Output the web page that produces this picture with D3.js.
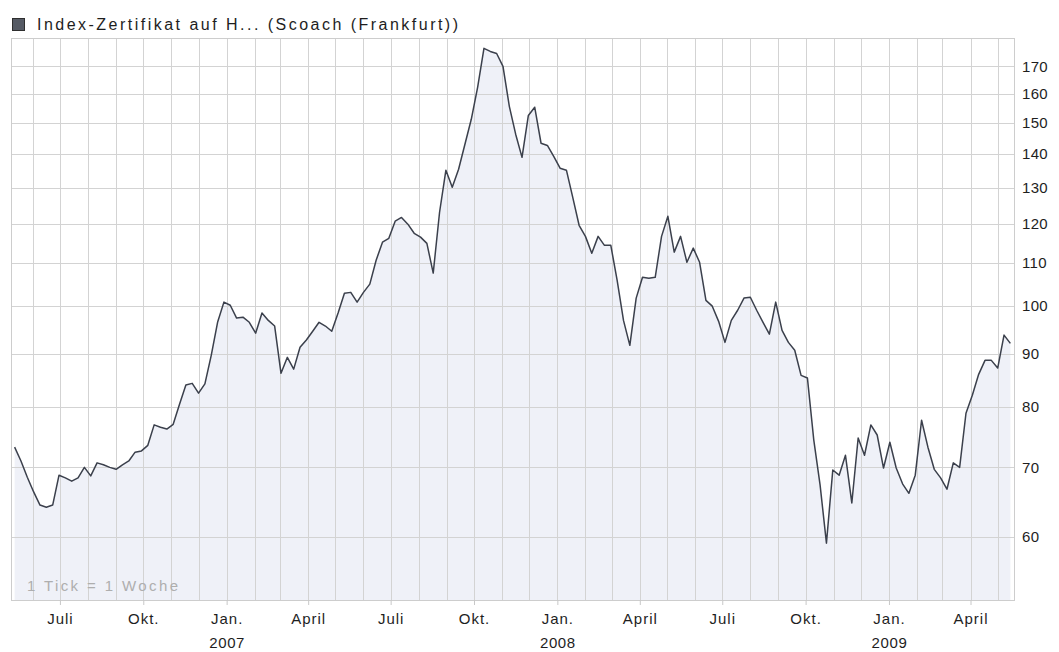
<!DOCTYPE html>
<html><head><meta charset="utf-8">
<script src="https://cdn.jsdelivr.net/npm/d3@7"></script>
<style>body{margin:0;background:#fff}</style>
</head><body>
<svg id="c" width="1059" height="652"></svg>
<script>
// ---- data ----
const title = "Index-Zertifikat auf H... (Scoach (Frankfurt))";
const note = "1 Tick = 1 Woche";
const firstWeek = "2006-05-12";            // weekly closes (Fridays)
const weeklyValues = [
 73.2,71.0,68.5,66.3,64.4,64.1,64.4,68.8,68.4,67.9,
 68.4,70.0,68.7,70.7,70.4,70.0,69.7,70.4,71.0,72.4,
 72.6,73.5,76.9,76.5,76.2,77.0,80.5,84.0,84.3,82.5,
 84.2,89.7,96.5,100.9,100.2,97.4,97.6,96.5,94.2,98.5,
 96.9,95.7,86.2,89.3,87.0,91.3,92.8,94.6,96.5,95.7,
 94.6,98.5,102.9,103.1,100.9,103.1,105.0,110.7,115.2,116.2,
 120.7,121.7,119.9,117.5,116.5,114.9,107.6,123.1,135.1,130.1,
 135.4,143.1,151.2,162.3,176.9,175.7,174.9,170.0,155.6,146.3,
 139.0,152.5,155.3,143.4,142.7,139.3,135.7,135.1,127.2,119.6,
 116.7,112.4,116.7,114.4,114.4,105.9,96.9,91.7,101.8,106.6,
 106.4,106.6,116.7,122.0,112.7,116.7,110.2,113.7,110.2,101.3,
 100.0,96.7,92.3,96.9,99.1,101.8,102.0,99.1,96.5,94.0,
 100.9,94.8,92.3,90.7,85.8,85.3,74.4,67.3,59.2,69.6,
 68.8,71.9,64.7,74.7,71.9,76.9,75.2,69.9,74.0,69.9,
 67.5,66.1,68.8,77.7,73.2,69.7,68.4,66.7,70.7,70.0,
 78.9,82.1,86.0,88.7,88.7,87.2,93.8,92.1
];
const yTickValues = [60,70,80,90,100,110,120,130,140,150,160,170];
const monthLabels = {0:"Jan.",3:"April",6:"Juli",9:"Okt."};
const xDomain = ["2006-05-08","2009-05-19"];
const yDomain = [52.2, 181];

// ---- layout ----
const plot = {left: 11, right: 1014, top: 38, bottom: 600};
const parse = d3.timeParse("%Y-%m-%d");
const start = parse(firstWeek);
const data = weeklyValues.map((v,i)=>({date: d3.timeWeek.offset(start,i), value: v}));

const x = d3.scaleTime().domain(xDomain.map(parse)).range([plot.left, plot.right]);
const y = d3.scaleLog().domain(yDomain).range([plot.bottom, plot.top]);

const svg = d3.select("#c");
const fontFam = "'Liberation Sans', Arial, sans-serif";
const txt = "#1e1e1e";

// area fill
svg.append("path").datum(data)
  .attr("fill","#eff1f8")
  .attr("d", d3.area().x(d=>x(d.date)).y0(plot.bottom).y1(d=>y(d.value)));

// grid
const months = d3.timeMonth.range(x.domain()[0], x.domain()[1]);
const grid = svg.append("g").attr("stroke","#d3d3d3").attr("stroke-width",1).attr("shape-rendering","crispEdges");
grid.selectAll("line.v").data(months).join("line")
  .attr("x1",d=>Math.round(x(d))+0.5).attr("x2",d=>Math.round(x(d))+0.5)
  .attr("y1",plot.top).attr("y2",plot.bottom);
grid.selectAll("line.h").data(yTickValues).join("line")
  .attr("x1",plot.left).attr("x2",plot.right)
  .attr("y1",d=>Math.round(y(d))+0.5).attr("y2",d=>Math.round(y(d))+0.5);
// frame
svg.append("rect").attr("x",plot.left+0.5).attr("y",plot.top+0.5)
  .attr("width",plot.right-plot.left).attr("height",plot.bottom-plot.top)
  .attr("fill","none").attr("stroke","#cdcdcd").attr("shape-rendering","crispEdges");

// line
svg.append("path").datum(data)
  .attr("fill","none").attr("stroke","#3b404c").attr("stroke-width",1.5)
  .attr("stroke-linejoin","round")
  .attr("d", d3.line().x(d=>x(d.date)).y(d=>y(d.value)));

// y axis (right)
const yAxis = d3.axisRight(y).tickValues(yTickValues).tickFormat(d3.format("d")).tickSize(0).tickPadding(0);
const gy = svg.append("g").attr("transform",`translate(${plot.right+8},0)`).call(yAxis);
gy.select(".domain").remove();
gy.selectAll("text").attr("font-family",fontFam).attr("font-size",15).attr("fill",txt).attr("letter-spacing","0.3px");

// x axis (bottom)
const quarters = months.filter(d=>monthLabels[d.getMonth()] !== undefined);
const xAxis = d3.axisBottom(x).tickValues(quarters).tickSize(5).tickFormat(d=>monthLabels[d.getMonth()]);
const gx = svg.append("g").attr("transform",`translate(0,${plot.bottom})`).call(xAxis);
gx.select(".domain").remove();
gx.selectAll(".tick line").attr("stroke","#c8c8c8");
gx.selectAll(".tick text").attr("font-family",fontFam).attr("font-size",15).attr("fill",txt)
  .attr("letter-spacing","1px").attr("dy","1.05em");
gx.selectAll(".tick").filter(d=>d.getMonth()===0).append("text")
  .attr("y",37).attr("dy","0.71em").attr("fill",txt).attr("font-family",fontFam).attr("font-size",15)
  .attr("letter-spacing","0.6px").attr("text-anchor","middle").text(d=>d3.timeFormat("%Y")(d));

// note
svg.append("text").attr("x",27).attr("y",591).attr("font-family",fontFam).attr("font-size",15)
  .attr("fill","#aeaeae").attr("textLength",151).attr("lengthAdjust","spacing").text(note);

// title legend
svg.append("rect").attr("x",12.5).attr("y",18.5).attr("width",12).attr("height",12)
  .attr("fill","#555a64").attr("stroke","#2e2e2e");
svg.append("text").attr("x",37).attr("y",30).attr("font-family",fontFam).attr("font-size",16)
  .attr("fill",txt).attr("textLength",421).attr("lengthAdjust","spacing").text(title);
</script>
</body></html>
